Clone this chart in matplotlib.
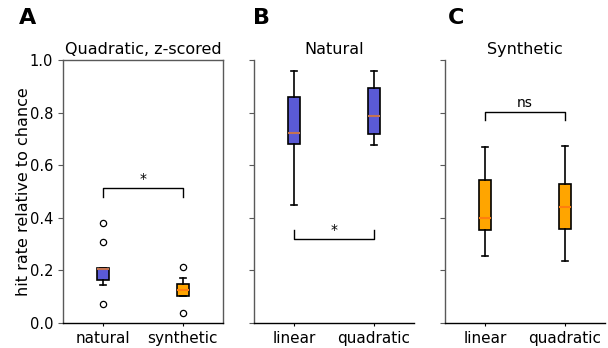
import matplotlib
matplotlib.use("Agg")
import matplotlib.pyplot as plt

# ---- data (hit rate relative to chance) ----
# panel A: quadratic, z-scored
A_LABELS = ["natural", "synthetic"]
A_MED = [0.206, 0.125]
A_Q1 = [0.163, 0.104]
A_Q3 = [0.210, 0.147]
A_WLO = [0.144, 0.104]
A_WHI = [0.210, 0.170]
A_FLIERS = [[0.381, 0.309, 0.072], [0.214, 0.037]]

# panel B: natural
B_LABELS = ["linear", "quadratic"]
B_MED = [0.724, 0.788]
B_Q1 = [0.679, 0.717]
B_Q3 = [0.858, 0.894]
B_WLO = [0.450, 0.677]
B_WHI = [0.958, 0.959]

# panel C: synthetic
C_LABELS = ["linear", "quadratic"]
C_MED = [0.398, 0.442]
C_Q1 = [0.354, 0.356]
C_Q3 = [0.544, 0.527]
C_WLO = [0.255, 0.237]
C_WHI = [0.668, 0.673]

# significance brackets: (y of bar, tip length, text)
A_SIG = (0.512, -0.032, "*")
B_SIG = (0.320, 0.034, "*")
C_SIG = (0.801, -0.029, "ns")

BLUE, ORANGE = "#5a5ad6", "#ffa500"
MED_ON_BLUE, MED_ON_ORANGE = "#c47250", "#ff7f0e"
SPINE = "0.35"


def stats(labels, med, q1, q3, wlo, whi, fliers=None):
    out = []
    for i, lab in enumerate(labels):
        out.append(dict(label=lab, med=med[i], q1=q1[i], q3=q3[i],
                        whislo=wlo[i], whishi=whi[i],
                        fliers=fliers[i] if fliers else []))
    return out


def draw_boxes(ax, st, colors, med_colors):
    bp = ax.bxp(st, positions=[1, 2], widths=0.16, patch_artist=True,
                showfliers=True,
                boxprops=dict(linewidth=1.2, edgecolor="black"),
                whiskerprops=dict(linewidth=1.2, color="black"),
                capprops=dict(linewidth=1.2, color="black"),
                flierprops=dict(marker="o", markersize=4.5, markerfacecolor="none",
                                markeredgecolor="black", markeredgewidth=0.9),
                medianprops=dict(linewidth=1.5))
    for patch, c in zip(bp["boxes"], colors):
        patch.set_facecolor(c)
    for line, c in zip(bp["medians"], med_colors):
        line.set_color(c)
    return bp


def bracket(ax, sig, fs=10):
    y, tip, txt = sig
    ax.plot([1, 1, 2, 2], [y + tip, y, y, y + tip], color="black", lw=1.0)
    ax.text(1.5, y + 0.008, txt, ha="center", va="bottom", fontsize=fs)


fig = plt.figure(figsize=(6.08, 3.48), dpi=100)
ax_a = fig.add_axes([0.1036, 0.0718, 0.263, 0.7557])
ax_b = fig.add_axes([0.4178, 0.0718, 0.263, 0.7557])
ax_c = fig.add_axes([0.7319, 0.0718, 0.263, 0.7557])

draw_boxes(ax_a, stats(A_LABELS, A_MED, A_Q1, A_Q3, A_WLO, A_WHI, A_FLIERS),
           [BLUE, ORANGE], [MED_ON_BLUE, MED_ON_ORANGE])
draw_boxes(ax_b, stats(B_LABELS, B_MED, B_Q1, B_Q3, B_WLO, B_WHI),
           [BLUE, BLUE], [MED_ON_BLUE, MED_ON_BLUE])
draw_boxes(ax_c, stats(C_LABELS, C_MED, C_Q1, C_Q3, C_WLO, C_WHI),
           [ORANGE, ORANGE], [MED_ON_ORANGE, MED_ON_ORANGE])

bracket(ax_a, A_SIG)
bracket(ax_b, B_SIG)
bracket(ax_c, C_SIG)

titles = ["Quadratic, z-scored", "Natural", "Synthetic"]
for ax, title in zip([ax_a, ax_b, ax_c], titles):
    ax.set_xlim(0.5, 2.5)
    ax.set_ylim(0, 1.0)
    ax.set_yticks([0, 0.2, 0.4, 0.6, 0.8, 1.0])
    ax.set_title(title, fontsize=11.5, pad=4)
    ax.tick_params(axis="x", labelsize=11, length=2.5, width=0.8, pad=3)
    ax.tick_params(axis="y", labelsize=10.5, length=3.5, width=0.8, color=SPINE)
    for s in ax.spines.values():
        s.set_color(SPINE)
        s.set_linewidth(1.0)
    ax.spines["bottom"].set_color("black")

ax_a.set_ylabel("hit rate relative to chance", fontsize=11.5, labelpad=-1)
for ax in (ax_b, ax_c):
    ax.spines["top"].set_visible(False)
    ax.spines["right"].set_visible(False)
    ax.tick_params(axis="y", labelleft=False)

for x, letter in [(0.045, "A"), (0.43, "B"), (0.75, "C")]:
    fig.text(x, 0.948, letter, fontsize=16, fontweight="bold", ha="center", va="center")

fig.savefig("out.png", dpi=100)
